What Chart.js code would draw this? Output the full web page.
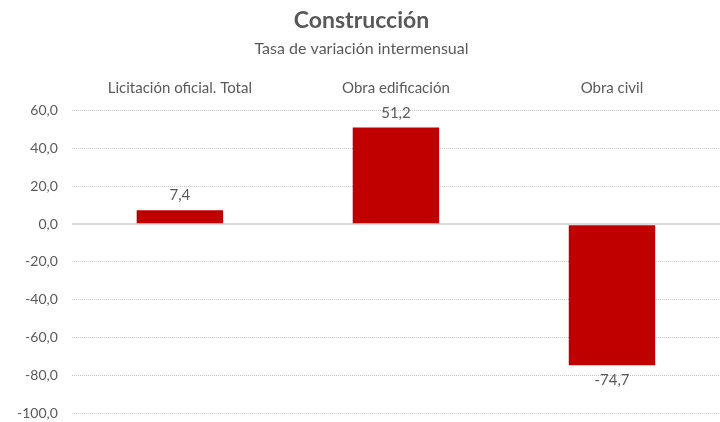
<!DOCTYPE html>
<html>
<head>
<meta charset="utf-8">
<script src="https://cdn.jsdelivr.net/npm/chart.js@4/dist/chart.umd.min.js"></script>
<style>
  html, body { margin: 0; padding: 0; background: #fff; }
  #wrap { width: 720px; height: 422px; }
</style>
</head>
<body>
<div id="wrap"><canvas id="chart" width="720" height="422"></canvas></div>
<script>
// Chart data
const categories = ["Licitación oficial. Total", "Obra edificación", "Obra civil"];
const values = [7.4, 51.2, -74.7];
const yMin = -100;
const yMax = 60;
const yStep = 20;

const textColor = "#595959";
const fontFamily = "Lato, 'Open Sans', sans-serif";

// Format numbers with a decimal comma
function fmt(v) {
    return v.toFixed(1).replace(".", ",");
}

// Draws the value above (or below) each bar
const valueLabels = {
    id: "valueLabels",
    afterDatasetsDraw(chart) {
        const ctx = chart.ctx;
        const meta = chart.getDatasetMeta(0);
        ctx.save();
        ctx.font = "15px " + fontFamily;
        ctx.fillStyle = textColor;
        ctx.textAlign = "center";
        meta.data.forEach((bar, i) => {
            const v = values[i];
            if (v >= 0) {
                ctx.textBaseline = "bottom";
                ctx.fillText(fmt(v), bar.x, bar.y - 7);
            } else {
                ctx.textBaseline = "top";
                ctx.fillText(fmt(v), bar.x, bar.y + 7);
            }
        });
        ctx.restore();
    }
};

new Chart(document.getElementById("chart"), {
    type: "bar",
    data: {
        labels: categories,
        datasets: [{
            data: values,
            backgroundColor: "#C00000",
            borderWidth: 0,
            barPercentage: 0.4,
            categoryPercentage: 1.0
        }]
    },
    plugins: [valueLabels],
    options: {
        responsive: false,
        animation: false,
        layout: { padding: { left: 3, right: 0, top: 7, bottom: 9 } },
        plugins: {
            legend: { display: false },
            tooltip: { enabled: false },
            title: {
                display: true,
                text: "Construcción",
                color: textColor,
                font: { family: fontFamily, size: 23, weight: "bold" },
                padding: { top: 0, bottom: 5 }
            },
            subtitle: {
                display: true,
                text: "Tasa de variación intermensual",
                color: textColor,
                font: { family: fontFamily, size: 16 },
                padding: { bottom: 14 }
            }
        },
        scales: {
            x: {
                position: "top",
                grid: { display: false },
                border: { display: false },
                ticks: {
                    color: textColor,
                    font: { family: fontFamily, size: 15 },
                    padding: 6
                }
            },
            y: {
                min: yMin,
                max: yMax,
                afterFit: scale => {
                    scale.paddingTop = 0;
                    scale.paddingBottom = 0;
                },
                border: {
                    display: false,
                    dash: ctx => (ctx.tick && ctx.tick.value === 0) ? [] : [1, 1]
                },
                grid: {
                    drawTicks: false,
                    color: ctx => (ctx.tick && ctx.tick.value === 0) ? "#d9d9d9" : "#c8c8c8",
                    lineWidth: ctx => (ctx.tick && ctx.tick.value === 0) ? 2 : 1
                },
                ticks: {
                    stepSize: yStep,
                    color: textColor,
                    font: { family: fontFamily, size: 14 },
                    padding: 14,
                    callback: v => fmt(v)
                }
            }
        }
    }
});
</script>
</body>
</html>
